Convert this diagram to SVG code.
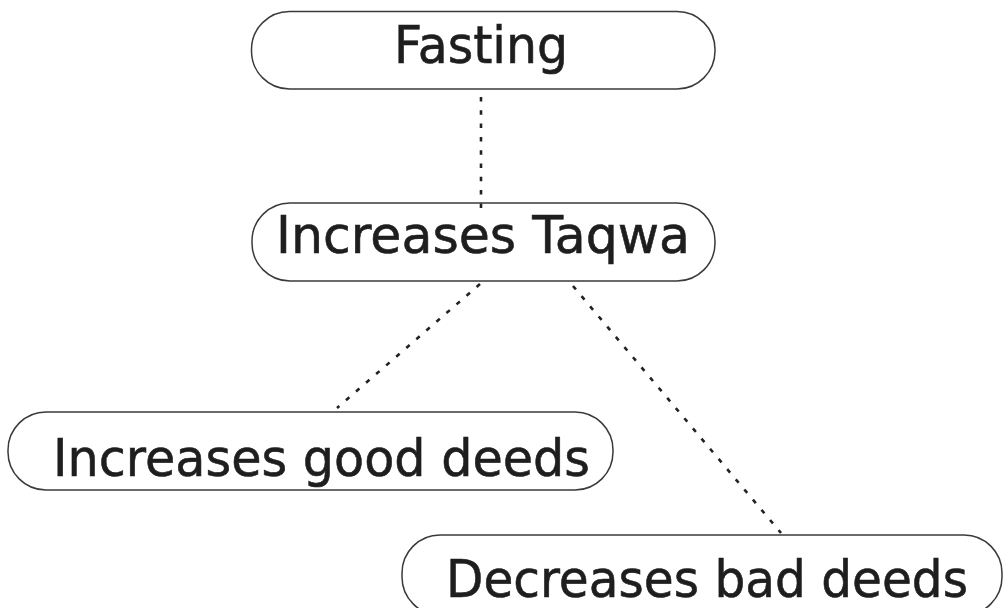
<svg xmlns="http://www.w3.org/2000/svg" width="1004" height="608" viewBox="0 0 1004 608">
  <style>
    .box { fill: #ffffff; stroke: #3a3a3a; stroke-width: 1.5; }
    .lbl { font-family: "DejaVu Sans", "Liberation Sans", sans-serif; font-size: 52px; fill: #1e1e1e; stroke: #1e1e1e; stroke-width: 0.6; }
    .conn { stroke: #222222; stroke-width: 2.6; stroke-dasharray: 4.5 8.8; fill: none; }
  </style>
  <rect width="1004" height="608" fill="#ffffff"/>
  <g id="node-fasting">
    <rect class="box" x="251.5" y="11.5" width="463.5" height="77.5" rx="38" ry="38"/>
    <text class="lbl" x="394" y="63" textLength="174" lengthAdjust="spacingAndGlyphs">Fasting</text>
  </g>
  <g id="node-taqwa">
    <rect class="box" x="252" y="203" width="463" height="78" rx="38" ry="38"/>
    <text class="lbl" x="276" y="253" textLength="414" lengthAdjust="spacingAndGlyphs">Increases Taqwa</text>
  </g>
  <g id="node-good">
    <rect class="box" x="8" y="412" width="605" height="78" rx="38" ry="38"/>
    <text class="lbl" x="53" y="476" textLength="537" lengthAdjust="spacingAndGlyphs">Increases good deeds</text>
  </g>
  <g id="node-bad">
    <rect class="box" x="402" y="535" width="600" height="80" rx="38" ry="38"/>
    <text class="lbl" x="446" y="597" font-size="55" textLength="522" lengthAdjust="spacingAndGlyphs">Decreases bad deeds</text>
  </g>
  <g id="connectors">
    <line class="conn" x1="481" y1="97" x2="481" y2="209"/>
    <line class="conn" x1="480" y1="284" x2="337" y2="408"/>
    <line class="conn" x1="573" y1="286" x2="781" y2="533"/>
  </g>
</svg>
